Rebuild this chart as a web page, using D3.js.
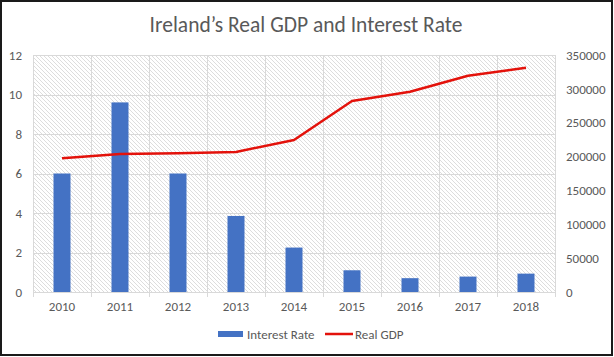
<!DOCTYPE html>
<html><head><meta charset="utf-8">
<script src="https://cdn.jsdelivr.net/npm/d3@7"></script>
<style>body{margin:0;background:#fff}svg{display:block}</style>
</head><body>
<svg id="c" width="614" height="357"></svg>
<script>
const years = ["2010","2011","2012","2013","2014","2015","2016","2017","2018"];
const interestRate = [6.0, 9.6, 6.0, 3.85, 2.25, 1.1, 0.7, 0.78, 0.93];
const realGDP = [197400, 203800, 204800, 206800, 224500, 282100, 295800, 319400, 331200];
const leftTicks = [0,2,4,6,8,10,12];
const rightTicks = [0,50000,100000,150000,200000,250000,300000,350000];
const title = "Ireland\u2019s Real GDP and Interest Rate";
const seriesNames = ["Interest Rate","Real GDP"];

const svg = d3.select("#c");
const font = "Carlito, Calibri, 'Open Sans', sans-serif";
const txt = "#595959";
const m = {l:33, r:555, t:55, b:292};

const defs = svg.append("defs");
const pat = defs.append("pattern").attr("id","hatch").attr("patternUnits","userSpaceOnUse")
  .attr("width",4).attr("height",4);
pat.append("rect").attr("width",4).attr("height",4).attr("fill","#fff");
pat.append("path").attr("d","M-1,-1 L5,5 M-1,3 L1,5 M3,-1 L5,1")
  .attr("stroke","#d4d4d4").attr("stroke-width",0.8);

svg.append("rect").attr("x",1).attr("y",1).attr("width",611).attr("height",354)
  .attr("fill","#fff").attr("stroke","#1a1a1a").attr("stroke-width",2);

const x = d3.scaleBand().domain(years).range([m.l,m.r]).paddingInner(0).paddingOuter(0);
const yL = d3.scaleLinear().domain([0,12]).range([m.b,m.t]);
const yR = d3.scaleLinear().domain([0,350000]).range([m.b,m.t]);

svg.append("rect").attr("x",m.l).attr("y",m.t).attr("width",m.r-m.l).attr("height",m.b-m.t)
  .attr("fill","url(#hatch)");

// gridlines
const grid = svg.append("g").attr("stroke","#d9d9d9").attr("stroke-width",1);
leftTicks.forEach(t=>{
  grid.append("line").attr("x1",m.l).attr("x2",m.r).attr("y1",Math.round(yL(t))+0.5).attr("y2",Math.round(yL(t))+0.5);
});
const bounds = years.map(y=>x(y)).concat([m.r]);
bounds.forEach(b=>{
  grid.append("line").attr("x1",Math.round(b)+0.5).attr("x2",Math.round(b)+0.5).attr("y1",m.t).attr("y2",m.b+5);
});

// bars
const bw = 17;
svg.append("g").selectAll("rect").data(years).join("rect")
  .attr("x",(d)=>x(d)+x.bandwidth()/2-bw/2)
  .attr("y",(d,i)=>yL(interestRate[i]))
  .attr("width",bw)
  .attr("height",(d,i)=>m.b-yL(interestRate[i]))
  .attr("fill","#4472c4");

// line
const line = d3.line().x((d,i)=>x(years[i])+x.bandwidth()/2).y(d=>yR(d));
svg.append("path").datum(realGDP).attr("d",line).attr("fill","none")
  .attr("stroke","#e3120b").attr("stroke-width",2.5).attr("stroke-linejoin","round");

// axes
const axL = svg.append("g").attr("transform",`translate(${m.l},0)`)
  .call(d3.axisLeft(yL).tickValues(leftTicks).tickSize(0).tickPadding(11));
const axR = svg.append("g").attr("transform",`translate(${m.r},0)`)
  .call(d3.axisRight(yR).tickValues(rightTicks).tickFormat(d3.format("d")).tickSize(0).tickPadding(11));
const axB = svg.append("g").attr("transform",`translate(0,${m.b})`)
  .call(d3.axisBottom(x).tickSize(0).tickPadding(10));
[axL,axR,axB].forEach(a=>{
  a.select(".domain").remove();
  a.selectAll("text").attr("fill",txt).attr("font-family",font).attr("font-size",13);
});

// title
svg.append("text").attr("x",306).attr("y",32).attr("text-anchor","middle")
  .attr("font-family",font).attr("font-weight",300).attr("font-size",21.5).attr("fill",txt)
  .text(title);

// legend
const lg = svg.append("g");
lg.append("rect").attr("x",218).attr("y",331).attr("width",25).attr("height",6).attr("fill","#4472c4");
lg.append("text").attr("x",247).attr("y",338.5).attr("font-family",font).attr("font-size",13).attr("fill",txt).text(seriesNames[0]);
lg.append("line").attr("x1",325).attr("x2",353).attr("y1",334).attr("y2",334).attr("stroke","#e3120b").attr("stroke-width",2.5);
lg.append("text").attr("x",355).attr("y",338.5).attr("font-family",font).attr("font-size",13).attr("fill",txt).text(seriesNames[1]);
</script>
</body></html>
